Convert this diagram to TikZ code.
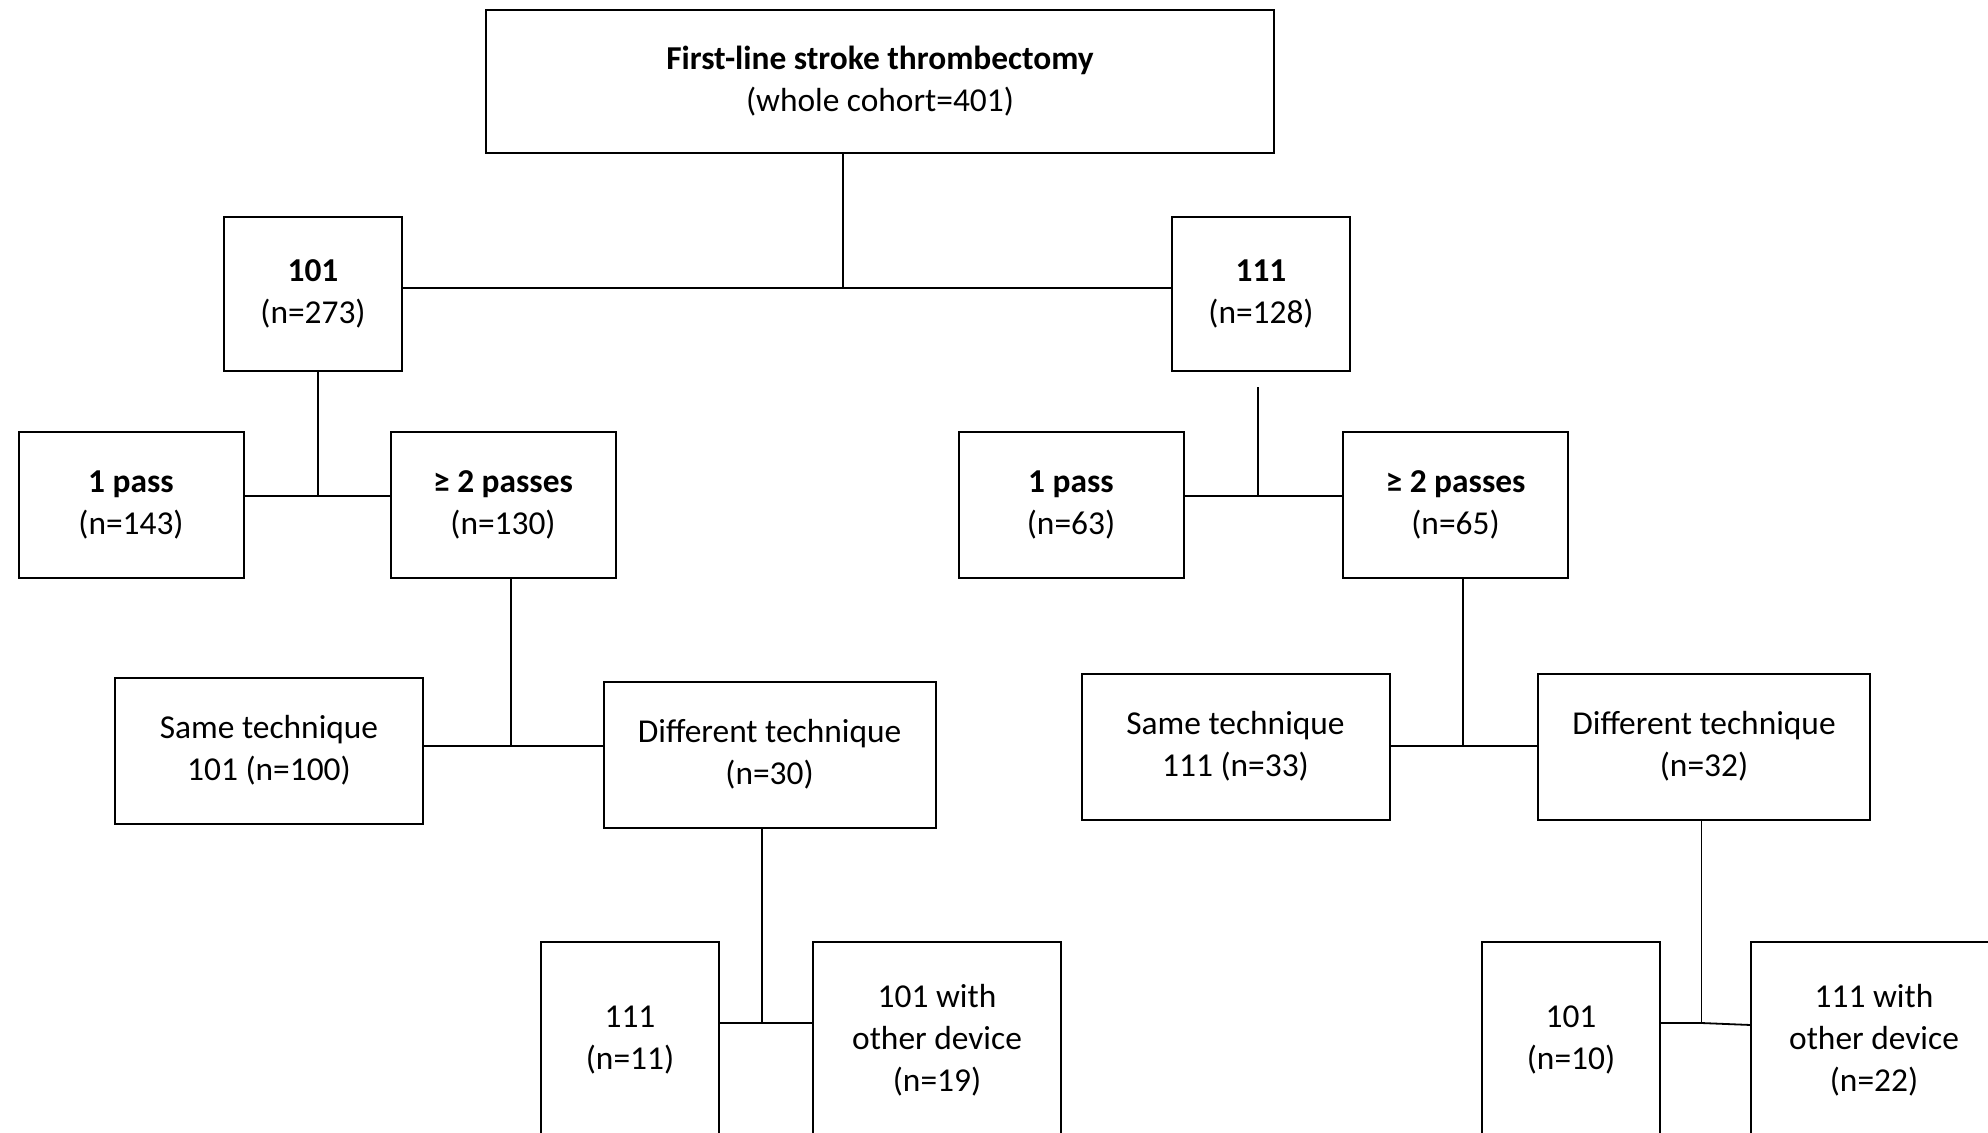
\documentclass[tikz,border=0pt]{standalone}
\usepackage{fontspec}
\setmainfont{Carlito}
\usepackage{tikz}
\usetikzlibrary{calc}
\usetikzlibrary{positioning}
\tikzstyle{boxnode} = [draw, rectangle, line width=1pt, inner sep=0pt, outer sep=0pt, align=center, font=\fontsize{16.7}{21}\selectfont]
\tikzstyle{link} = [line width=0.9pt]

\begin{document}
\begin{tikzpicture}[x=0.5pt, y=-0.5pt]
\useasboundingbox (0,0) rectangle (1988,1132);
\clip (0,0) rectangle (1988,1132);
\node[boxnode, minimum width=394pt, minimum height=71.5pt] (top) at (880,81.5) {\textbf{First-line stroke thrombectomy}\\(whole cohort=401)};
\node[boxnode, minimum width=89pt, minimum height=77pt] (n101) at ($(top)+(-567,212.5)$) {\textbf{101}\\(n=273)};
\node[boxnode, minimum width=89pt, minimum height=77pt] (n111) at ($(top)+(381,212.5)$) {\textbf{111}\\(n=128)};
\node[boxnode, minimum width=112.5pt, minimum height=73pt] (onepassL) at ($(n101)+(-182,211)$) {\textbf{1 pass}\\(n=143)};
\node[boxnode, minimum width=112.5pt, minimum height=73pt] (twopassL) at ($(n101)+(190,211)$) {\textbf{≥ 2 passes}\\(n=130)};
\node[boxnode, minimum width=112.5pt, minimum height=73pt] (onepassR) at ($(n111)+(-190,211)$) {\textbf{1 pass}\\(n=63)};
\node[boxnode, minimum width=112.5pt, minimum height=73pt] (twopassR) at ($(n111)+(194.5,211)$) {\textbf{≥ 2 passes}\\(n=65)};
\node[boxnode, minimum width=154pt, minimum height=73pt] (sameL) at ($(twopassL)+(-234,245.5)$) {Same technique\\101 (n=100)};
\node[boxnode, minimum width=166pt, minimum height=73pt] (diffL) at ($(twopassL)+(266.6,249.6)$) {Different technique\\(n=30)};
\node[boxnode, minimum width=154pt, minimum height=73pt] (sameR) at ($(twopassR)+(-220,241.6)$) {Same technique\\111 (n=33)};
\node[boxnode, minimum width=166pt, minimum height=73pt] (diffR) at ($(twopassR)+(248.5,241.6)$) {Different technique\\(n=32)};
\node[boxnode, minimum width=89pt, minimum height=98pt] (alt111) at ($(diffL)+(-139.6,285.4)$) {111\\(n=11)};
\node[boxnode, minimum width=124pt, minimum height=98pt] (dev101) at ($(diffL)+(167.4,285.4)$) {101 with\\other device\\(n=19)};
\node[boxnode, minimum width=89pt, minimum height=98pt] (alt101) at ($(diffR)+(-133,293.4)$) {101\\(n=10)};
\node[boxnode, minimum width=123pt, minimum height=98pt] (dev111) at ($(diffR)+(170,293.4)$) {111 with\\other device\\(n=22)};
% junctions
\coordinate (j1) at (843,288);
\coordinate (j2) at (318,496);
\coordinate (j3a) at (1258,387);
\coordinate (j3) at (1258,496);
\coordinate (j4) at (511,746);
\coordinate (j5) at (1463,746);
\coordinate (j6) at (762,1023);
\coordinate (j7) at (1701.5,1023);
\coordinate (j7b) at (1751,1025);
\draw[link] (j1 |- top.south) -- (j1);
\draw[link] (n101.east |- j1) -- (n111.west |- j1);
\draw[link] (j2 |- n101.south) -- (j2);
\draw[link] (onepassL.east |- j2) -- (twopassL.west |- j2);
\draw[link] (j3a) -- (j3);
\draw[link] (onepassR.east |- j3) -- (twopassR.west |- j3);
\draw[link] (j4 |- twopassL.south) -- (j4);
\draw[link] (sameL.east |- j4) -- (diffL.west |- j4);
\draw[link] (j5 |- twopassR.south) -- (j5);
\draw[link] (sameR.east |- j5) -- (diffR.west |- j5);
\draw[link] (j6 |- diffL.south) -- (j6);
\draw[link] (alt111.east |- j6) -- (dev101.west |- j6);
\draw[link] (j7 |- diffR.south) -- (j7);
\draw[link] (alt101.east |- j7) -- (j7) -- (j7b);
\end{tikzpicture}
\end{document}
